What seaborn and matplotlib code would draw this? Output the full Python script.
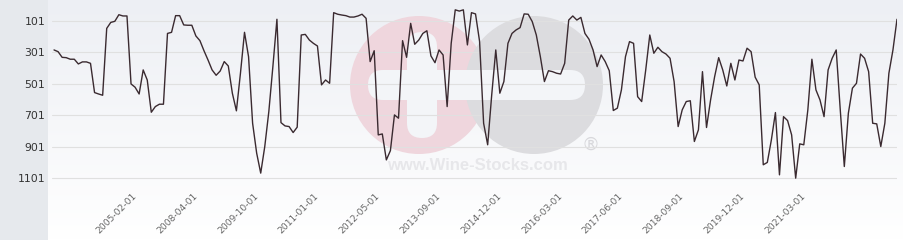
import numpy as np
import pandas as pd
import matplotlib
matplotlib.use("Agg")
import matplotlib.pyplot as plt
import seaborn as sns
from matplotlib.patches import Circle, FancyBboxPatch, Rectangle
from matplotlib.colors import to_rgb

# ---------------- data ----------------
ranks = [
    285, 296, 332, 334, 344, 344, 374, 361, 361, 370, 556, 565, 573, 148, 110, 103, 61, 69, 69, 501,
    522, 565, 412, 476, 681, 645, 630, 630, 180, 173, 67, 67, 126, 128, 128, 196,
    226, 290, 349, 412, 446, 419, 359, 387, 560, 672, 433, 173, 328, 751, 941, 1068, 899, 677, 391, 90,
    747, 768, 772, 810, 776, 190, 186, 222, 243, 260, 507, 476, 497,
    48, 58, 63, 67, 76, 76, 69, 58, 84, 359, 290, 825, 819, 984, 925, 698, 719, 226, 332, 116,
    249, 222, 180, 163, 323, 366, 285, 317, 645, 243, 30, 38, 30, 253, 48, 56,
    230, 751, 888, 570, 285, 560, 486, 243, 180, 158, 143, 56, 58, 105, 190, 328, 486, 417, 423, 433,
    438, 370, 95, 69, 95, 78, 180, 217, 285, 391, 317, 359, 417, 670, 655,
    539, 328, 232, 243, 582, 613, 412, 190, 306, 268, 296, 311, 338, 486, 772, 666, 613, 608, 867, 793,
    423, 778, 603, 455, 334, 412, 514, 370, 476, 349, 355, 274, 296, 458, 507,
    1015, 1000, 857, 683, 1079, 709, 734, 825, 1100, 882, 888, 666, 344, 539, 603, 709, 412, 338, 285, 666,
    1026, 687, 528, 497, 311, 338, 423, 751, 755, 899, 751, 433, 285, 90,
]
date_labels = ["2005-02-01", "2008-04-01", "2009-10-01", "2011-01-01", "2012-05-01", "2013-09-01",
               "2014-12-01", "2016-03-01", "2017-06-01", "2018-09-01", "2019-12-01", "2021-03-01"]
y_ticks = [101, 301, 501, 701, 901, 1101]

df = pd.DataFrame({"idx": np.arange(len(ranks)), "rank": ranks})
tick_idx = [20 + 15 * k for k in range(len(date_labels))]

# ---------------- figure ----------------
sns.set_style("white")
plt.rcParams["font.family"] = ["DejaVu Sans"]

W, H = 904, 240
fig = plt.figure(figsize=(W / 100, H / 100), dpi=100)

# background layer in pixel coordinates
bg = fig.add_axes([0, 0, 1, 1], zorder=0)
top_c = np.array(to_rgb("#edeff4"))
bot_c = np.array(to_rgb("#ffffff"))
t = np.linspace(0, 1, H)[:, None, None]
grad = top_c[None, None, :] * (1 - t) + bot_c[None, None, :] * t
bg.imshow(grad, extent=[48, W, H, 0], aspect="auto", interpolation="bilinear")
bg.add_patch(Rectangle((0, 0), 48, H, color="#e6e9ed", lw=0))


def grad_at(y):
    tt = y / H
    return tuple(top_c * (1 - tt) + bot_c * tt)


# watermark logo
bg.add_patch(Circle((419, 85), 69, color="#efd6dd", lw=0))
bg.add_patch(Circle((534, 85), 69, color="#dcdcdf", lw=0))
cut = grad_at(85)
bg.add_patch(FancyBboxPatch((368, 70), 217, 30, boxstyle="round,pad=0,rounding_size=15",
                            color=cut, lw=0))
bg.add_patch(FancyBboxPatch((407, 32), 30, 106, boxstyle="round,pad=0,rounding_size=15",
                            color=cut, lw=0))
bg.text(477, 166, "www.Wine-Stocks.com", ha="center", va="center", fontsize=12,
        fontweight="bold", family="Liberation Sans", color="#e7e7ea")
bg.text(591, 145, "\u00ae", ha="center", va="center", fontsize=13, color="#d8d8dc")
bg.set_xlim(0, W)
bg.set_ylim(H, 0)
bg.axis("off")

# main chart axes
px_per_unit = 6.357
top_val = 101 - 21 * px_per_unit
bot_val = 101 + (190 - 21) * px_per_unit
ax = fig.add_axes([52 / W, (H - 190) / H, 845 / W, 190 / H], zorder=1)
ax.patch.set_alpha(0)

sns.lineplot(data=df, x="idx", y="rank", ax=ax, color="#3a2a30", lw=1.0)

ax.set_xlim(-0.5, len(ranks) - 1)
ax.set_ylim(bot_val, top_val)
ax.set_yticks(y_ticks)
ax.set_yticklabels([str(v) for v in y_ticks], fontsize=7.8, color="#333333")
ax.set_xticks(tick_idx)
ax.set_xticklabels(date_labels, rotation=45, ha="right", va="center",
                   rotation_mode="anchor", fontsize=6.6, color="#666666")
ax.tick_params(axis="both", length=0)
ax.tick_params(axis="y", pad=5)
ax.tick_params(axis="x", pad=3.5)
ax.grid(axis="y", color="#e0e0e0", lw=0.8)
ax.grid(axis="x", visible=False)
for s in ax.spines.values():
    s.set_visible(False)
ax.set_xlabel("")
ax.set_ylabel("")

fig.savefig("out.png", dpi=100)
